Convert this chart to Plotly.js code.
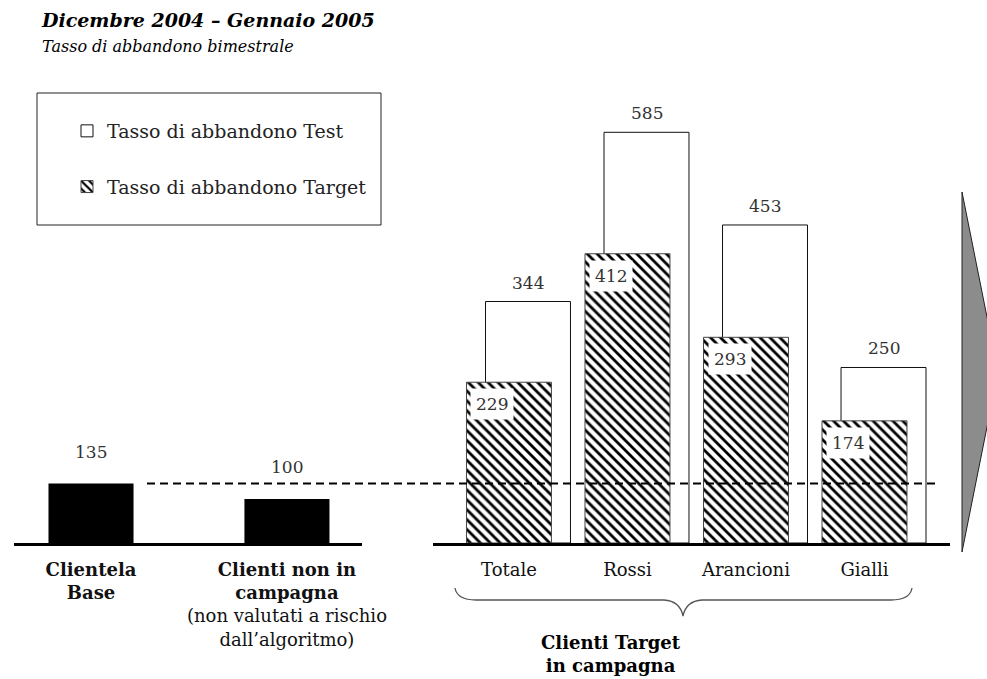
<!DOCTYPE html>
<html>
<head>
<meta charset="utf-8">
<script src="https://cdn.plot.ly/plotly-3.0.1.min.js"></script>
<style>html,body{margin:0;padding:0;background:#fff;}#chart{width:987px;height:679px;}</style>
</head>
<body>
<div id="chart"></div>
<script>
// ---- data ----
const leftCategories = ["Clientela Base", "Clienti non in campagna"];
const leftValues = [135, 100];
const leftTickText = [
  "<b>Clientela<br>Base</b>",
  "<b>Clienti non in<br>campagna</b><br>(non valutati a rischio<br>dall\u2019algoritmo)"
];
const rightCategories = ["Totale", "Rossi", "Arancioni", "Gialli"];
const testValues = [344, 585, 453, 250];
const targetValues = [229, 412, 293, 174];
const seriesNames = ["Tasso di abbandono Test", "Tasso di abbandono Target"];
const titleText = "Dicembre 2004 \u2013 Gennaio 2005";
const subtitleText = "Tasso di abbandono bimestrale";
const groupLabel = "Clienti Target<br>in campagna";

// ---- layout helpers (pixel -> paper) ----
const W = 987, H = 679;
const X = p => p / W;
const Y = p => 1 - p / H;
const FONT = "DejaVu Serif";
const yDomain = [Y(543), Y(60)];

const barW = 0.717, targetOff = -0.3585, testOff = -0.198;

const traces = [
  {type: "bar", x: leftCategories, y: leftValues, xaxis: "x", yaxis: "y",
   width: 0.434, marker: {color: "#000"}, showlegend: false},
  {type: "bar", name: seriesNames[0], legendgroup: "a", x: rightCategories, y: testValues,
   xaxis: "x2", yaxis: "y2", width: barW, offset: testOff,
   marker: {color: "#fff", line: {color: "#111", width: 1}}},
  {type: "bar", name: seriesNames[1], legendgroup: "b", x: rightCategories, y: targetValues,
   xaxis: "x2", yaxis: "y2", width: barW, offset: targetOff,
   marker: {color: "#fff", line: {color: "#444", width: 1},
            pattern: {shape: "\\", fgcolor: "#000", bgcolor: "#fff", size: 7, solidity: 0.4}}}
];

const annotations = [];
leftCategories.forEach((c, i) => annotations.push({
  xref: "x", yref: "y", x: c, y: leftValues[i], text: String(leftValues[i]),
  showarrow: false, yanchor: "bottom", yshift: 20,
  font: {family: FONT, size: 17, color: "#333"}
}));
rightCategories.forEach((c, i) => {
  annotations.push({
    xref: "x2", yref: "y2", x: i + testOff + barW / 2, y: testValues[i], text: String(testValues[i]),
    showarrow: false, yanchor: "bottom", yshift: 7,
    font: {family: FONT, size: 17, color: "#333"}
  });
  annotations.push({
    xref: "x2", yref: "y2", x: i + targetOff, y: targetValues[i], text: String(targetValues[i]),
    showarrow: false, xanchor: "left", yanchor: "top", xshift: 4, yshift: -6,
    bgcolor: "#fff", borderpad: 5,
    font: {family: FONT, size: 17, color: "#333"}
  });
});
annotations.push({
  xref: "paper", yref: "paper", x: X(683), y: Y(630), yanchor: "top",
  text: "<b>" + groupLabel + "</b>", showarrow: false,
  font: {family: FONT, size: 18, color: "#000"}
});

const brace = `M${X(455)},${Y(588)} Q${X(457)},${Y(600)} ${X(476)},${Y(600)} L${X(664)},${Y(600)} Q${X(680)},${Y(601)} ${X(683)},${Y(616)} Q${X(686)},${Y(601)} ${X(702)},${Y(600)} L${X(891)},${Y(600)} Q${X(910)},${Y(600)} ${X(912)},${Y(588)}`;
const arrow = `M${X(962)},${Y(192)} L${X(998)},${Y(372)} L${X(962)},${Y(552)} Z`;

const shapes = [
  {type: "rect", xref: "paper", yref: "paper", x0: X(37), x1: X(381), y0: Y(93), y1: Y(225),
   line: {color: "#222", width: 1}, fillcolor: "rgba(0,0,0,0)"},
  {type: "line", xref: "paper", yref: "y", x0: X(147), x1: X(937), y0: leftValues[0], y1: leftValues[0],
   line: {color: "#000", width: 2, dash: "8px,5px"}, layer: "above"},
  {type: "path", xref: "paper", yref: "paper", path: brace, line: {color: "#555", width: 1.3}},
  {type: "path", xref: "paper", yref: "paper", path: arrow, fillcolor: "#8c8c8c", line: {color: "#222", width: 1}}
];

const axisCommon = {showline: true, linewidth: 3, linecolor: "#000", ticks: "", showgrid: false,
  zeroline: false, fixedrange: true, tickfont: {family: FONT, size: 18, color: "#111"}, ticklabelstandoff: 8};

const layout = {
  width: W, height: H, margin: {l: 0, r: 0, t: 0, b: 0},
  paper_bgcolor: "#fff", plot_bgcolor: "rgba(0,0,0,0)",
  barmode: "overlay", hovermode: false,
  title: {text: "<b><i>" + titleText + "</i></b><br><i><span style='font-size:16px'>" + subtitleText + "</span></i>",
    x: X(42), xanchor: "left", xref: "paper", y: Y(27), yanchor: "top",
    font: {family: FONT, size: 19, color: "#000"}},
  xaxis: Object.assign({}, axisCommon, {domain: [X(14), X(362)], range: [-0.393, 1.383], anchor: "y",
    type: "category", tickvals: leftCategories, ticktext: leftTickText}),
  yaxis: {domain: yDomain, range: [0, 1098], visible: false, fixedrange: true},
  xaxis2: Object.assign({}, axisCommon, {domain: [X(433), X(950)], range: [-0.641, 3.7215], anchor: "y2",
    type: "category"}),
  yaxis2: {domain: yDomain, range: [0, 688], visible: false, fixedrange: true, anchor: "x2"},
  showlegend: true,
  legend: {x: X(67), y: Y(112), xanchor: "left", yanchor: "top", bgcolor: "rgba(0,0,0,0)",
    borderwidth: 0, traceorder: "grouped", tracegroupgap: 28,
    font: {family: FONT, size: 19, color: "#222"}},
  annotations: annotations,
  shapes: shapes
};

Plotly.newPlot("chart", traces, layout, {displayModeBar: false, staticPlot: true});
</script>
</body>
</html>
